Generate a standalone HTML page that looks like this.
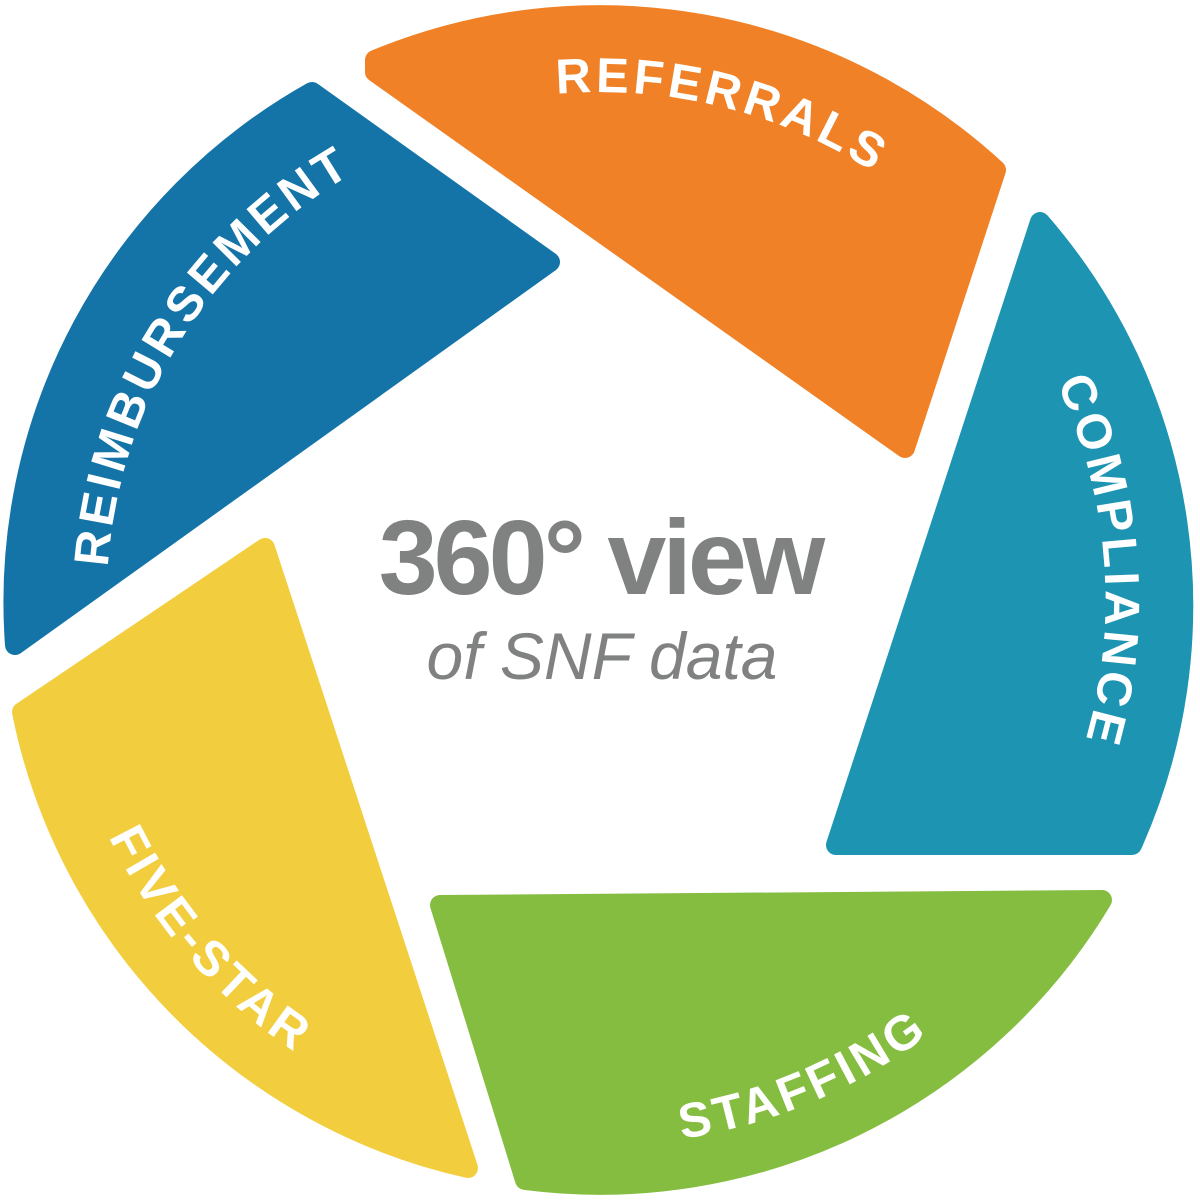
<!DOCTYPE html>
<html><head><meta charset="utf-8"><style>
html,body{margin:0;padding:0;background:#fff;}
svg{display:block;}
.lbl{font-family:"Liberation Sans",sans-serif;font-size:49px;font-weight:bold;fill:#fff;letter-spacing:4px;}
</style></head><body>
<svg width="1200" height="1200" viewBox="0 0 1200 1200" xmlns="http://www.w3.org/2000/svg">
<defs>
<path id="pRef" d="M178.9,316 A508 508 0 0 1 1105.2,546.9"/>
<path id="pCom" d="M734.9,113.2 A505 505 0 0 1 809.6,1059.6"/>
<path id="pRei" d="M211.5,903.7 A493 493 0 0 1 702.5,117.8"/>
<path id="pSta" d="M201.4,971.7 A545 545 0 0 0 1144.2,571.5"/>
<path id="pFiv" d="M123.3,335.8 A545 545 0 0 0 795.3,1109"/>
</defs>
<g stroke-linejoin="round" stroke-width="20">
<path d="M375,60 A585 585 0 0 1 996,170 L905,448 L375,72 Z" fill="#F08126" stroke="#F08126"/>
<path d="M1040,222 A585 585 0 0 1 1132,845 L836,845 Z" fill="#1C94B2" stroke="#1C94B2"/>
<path d="M1102,900 A585 585 0 0 1 525,1180 L440,905 Z" fill="#85BD40" stroke="#85BD40"/>
<path d="M468,1168 A585 585 0 0 1 22,712 L265,548 Z" fill="#F2CE3F" stroke="#F2CE3F"/>
<path d="M15,645 A585 585 0 0 1 312,92 L550,262 Z" fill="#1474A8" stroke="#1474A8"/>
</g>
<text class="lbl"><textPath href="#pRef" startOffset="50%" text-anchor="middle">REFERRALS</textPath></text>
<text class="lbl"><textPath href="#pCom" startOffset="50%" text-anchor="middle">COMPLIANCE</textPath></text>
<text class="lbl"><textPath href="#pRei" startOffset="50%" text-anchor="middle">REIMBURSEMENT</textPath></text>
<text class="lbl"><textPath href="#pSta" startOffset="50%" text-anchor="middle">STAFFING</textPath></text>
<text class="lbl"><textPath href="#pFiv" startOffset="50%" text-anchor="middle">FIVE-STAR</textPath></text>
<text x="600" y="594" text-anchor="middle" font-family="Liberation Sans,sans-serif" font-weight="bold" font-size="106" fill="#808281" letter-spacing="-4">360° view</text>
<text x="602" y="679" text-anchor="middle" font-family="Liberation Sans,sans-serif" font-style="italic" font-size="66" fill="#808281">of SNF data</text>
</svg>
</body></html>
